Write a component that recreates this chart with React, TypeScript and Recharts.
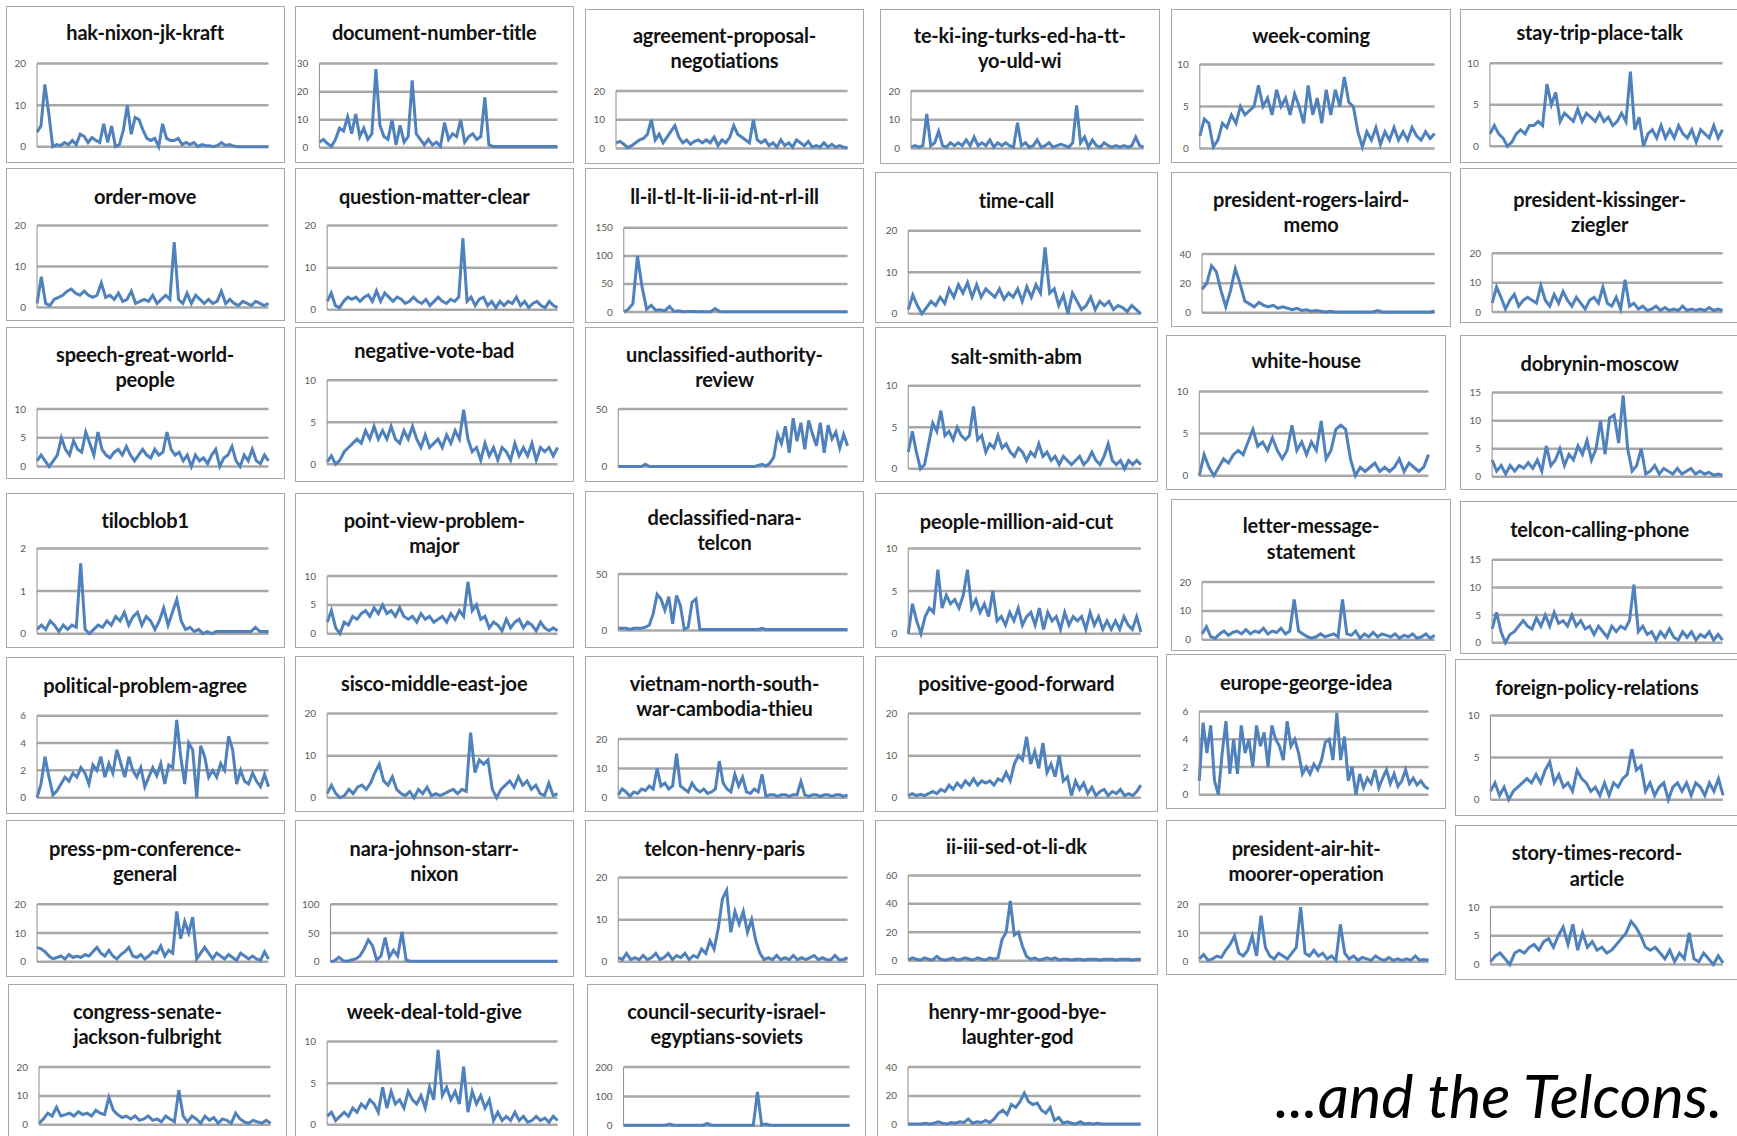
import { LineChart, Line, XAxis, YAxis, CartesianGrid } from "recharts";

const K = 1737 / 1568;
const BLUE = "#4f81bd";

const TITLES: string[][] = [
  ["hak-nixon-jk-kraft"],
  ["document-number-title"],
  ["agreement-proposal-", "negotiations"],
  ["te-ki-ing-turks-ed-ha-tt-", "yo-uld-wi"],
  ["week-coming"],
  ["stay-trip-place-talk"],
  ["order-move"],
  ["question-matter-clear"],
  ["ll-il-tl-lt-li-ii-id-nt-rl-ill"],
  ["time-call"],
  ["president-rogers-laird-", "memo"],
  ["president-kissinger-", "ziegler"],
  ["speech-great-world-", "people"],
  ["negative-vote-bad"],
  ["unclassified-authority-", "review"],
  ["salt-smith-abm"],
  ["white-house"],
  ["dobrynin-moscow"],
  ["tilocblob1"],
  ["point-view-problem-", "major"],
  ["declassified-nara-", "telcon"],
  ["people-million-aid-cut"],
  ["letter-message-", "statement"],
  ["telcon-calling-phone"],
  ["political-problem-agree"],
  ["sisco-middle-east-joe"],
  ["vietnam-north-south-", "war-cambodia-thieu"],
  ["positive-good-forward"],
  ["europe-george-idea"],
  ["foreign-policy-relations"],
  ["press-pm-conference-", "general"],
  ["nara-johnson-starr-", "nixon"],
  ["telcon-henry-paris"],
  ["ii-iii-sed-ot-li-dk"],
  ["president-air-hit-", "moorer-operation"],
  ["story-times-record-", "article"],
  ["congress-senate-", "jackson-fulbright"],
  ["week-deal-told-give"],
  ["council-security-israel-", "egyptians-soviets"],
  ["henry-mr-good-bye-", "laughter-god"],
];

const Y_TICKS: number[][] = [
  [0, 10, 20], [0, 10, 20, 30], [0, 10, 20], [0, 10, 20], [0, 5, 10], [0, 5, 10],
  [0, 10, 20], [0, 10, 20], [0, 50, 100, 150], [0, 10, 20], [0, 20, 40], [0, 10, 20],
  [0, 5, 10], [0, 5, 10], [0, 50], [0, 5, 10], [0, 5, 10], [0, 5, 10, 15],
  [0, 1, 2], [0, 5, 10], [0, 50], [0, 5, 10], [0, 10, 20], [0, 5, 10, 15],
  [0, 2, 4, 6], [0, 10, 20], [0, 10, 20], [0, 10, 20], [0, 2, 4, 6], [0, 5, 10],
  [0, 10, 20], [0, 50, 100], [0, 10, 20], [0, 20, 40, 60], [0, 10, 20], [0, 5, 10],
  [0, 10, 20], [0, 5, 10], [0, 100, 200], [0, 20, 40],
];

const hakNixon = [3.5,5,15,8,0,0.5,0.3,1,0.5,1.5,0.5,3,2.5,1,2.2,1.5,1,5.5,1,5,0,0.5,4,10,3,7,6.5,4,2,1.5,2,0,5.5,2,1.5,1.5,2,0.5,1,0.5,1,0,0.5,0.3,0.2,0,0.3,1,0.3,0.5,0.2,0,0,0,0,0,0,0,0,0];
const documentNumber = [2,3,1.5,0.5,3,7,6,11,5,12,4,7,3,5,28,8,4,3,10,1,8,2,4,24,5,3,1,3,1,2,0.5,9,3,5,4,10,2,4,5,3,4,18,1,0.5,0.5,0.5,0.5,0.5,0.5,0.5,0.5,0.5,0.5,0.5,0.5,0.5,0.5,0.5,0.5,0.5];
const agreementProposal = [2,2.5,1.5,0.3,1,2,3,3.5,5,10,3,5,2,4,6,8,4,2,3,1.5,2.5,3,2,3,2,4,1,3,2,4,8,5,4,3,2,10,3,2,3,1,2,0.5,3,1,2,0.5,3,2,1,2.5,0.5,1,0.5,2,0.5,1.5,0.5,1,0.5,0.3];
const tekiIng = [0.5,1,0.5,1,12,1,2,6,1,0.5,2,1,2,1,3,1,4,1,2,1,3,0.5,2,1,2,1,0.5,9,1,2,0.5,1,3,0.5,1,2,0.5,1,1.5,1,0.5,2,15,2,4,0.5,3,1,0.5,2,1,0.5,1,0.5,1,0.5,1,4,1,0.5];
const weekComing = [1.5,3.5,3,0.2,1,3,2.5,4,3,5,4,4.5,5,7.5,5,6,4,7,5,6,4,6.5,5,3,7.5,4,6,3,7,4,7,5,8.5,5.5,5,2,0.2,2,1,2.5,0.5,2,1,2.5,1,2,1,2.5,1.5,1,2,1.2,1.8];
const stayTrip = [1.5,2.5,1.5,1,0,0.5,1.5,2,1.5,2.5,2.5,3,2.5,7.5,5,6.5,3,4,3.5,3,4.5,3,4,3.5,3,4,3,3.5,2.5,3,4,3,9,2,3.5,0,1.5,2,1,2.5,1,2,1,2.5,1.5,1,2,0.5,2,1.5,1,2.5,1,2];

const orderMove = [1,7.5,1,0.5,2,2.5,3,4,4.5,3.5,3,4,3,2.5,3,6,2.5,3,2,3.5,1.5,2,4,1,1.5,2,1.5,3,1,2,3,2,16,2,1,3.5,1,3,2,1,2,1,1.5,4,1,2,1,0.5,1.5,1,0.5,1.5,1,0.5,1];
const questionMatter = [2,4,1,0.5,2,3,2.5,3,2,3,3.5,2,4.5,2,4,3,2,3,2.5,1.5,2,3,2,1.5,2.5,1,2,3,2,1.5,2.5,2,3,17,2,3,1,2.5,3,1,2,0.5,2,1,2,1.5,3,1,2,0.5,1.5,2,1,0.5,2,1,0.5];
const llIlTl = [0,5,15,100,45,5,12,3,4,2,10,1,2,0.5,1,1,0.5,1,0.5,0.5,6,1,0.5,0.5,0.5,0.5,0.5,0.5,0.5,0.5,0.5,0.5,0.5,0.5,0.5,0.5,0.5,0.5,0.5,0.5,0.5,0.5,0.5,0.5,0.5,0.5,0.5,0.5,0.5,0.5];
const timeCall = [1,4.5,2,0,1.5,3,2,4,2.5,6,4,7,5,7.5,4,7,4,6,5,4,6,3.5,5,4,6,3,6.5,4,7,5,16,5,6,2,4.5,0,5,3,1,2,4,1,3,2,3,1,2,1.5,0.5,2,1,0];
const presidentRogers = [16,20,32,28,15,4,15,30,20,8,6,4,7,5,4,5,3,4,3,2,3,1.5,2,1,1.5,1,0.5,1,0.5,0.5,0.5,0.5,0.5,0.5,0.5,0.5,0.5,1.5,0.5,0.5,0.5,0.5,0.5,0.5,0.5,0.5,0.5,0.5,0.5,1];
const presidentKissinger = [3,8.5,5,1,4,6,2,4,5,4,3,9,4,2,6,3,7,4,2,5,3,1,4,5,3,8.5,3,2,5,1,11,2,3,1,2,0.5,1,2,0.5,1.5,0.5,1,0.5,2,0.5,1,0.5,1,0.5,1.5,0.5,1,0.5];

const speechGreat = [1,2,1,0,1,2,5,3,2,4.5,3,2.5,6,4,2,6,3,2,1.5,2.5,3,2,3.5,2,1,2,3,2,1.5,3,2,2.5,6,3,2,2.5,1,2,0,2,1,1.5,0.5,2,3,0,1.5,2,3.5,1,0,2,1,3,1,0.5,2,1];
const negativeVote = [0.3,1,0,0.5,1.5,2,2.5,3,2.5,4,3,4.5,3,4,3,4.5,3,2.5,4,3,4.5,3,2,3.5,2,2.5,3,2,3.5,2.5,4,3,6.5,3,1.5,2,0.5,2.5,1,2,0.5,2,1.5,0.5,2.5,1,2,1,2.5,0.5,2,1.5,2,1,2];
const unclassifiedAuthority = [0,0,0,0,0,0,0,2,0,0,0,0,0,0,0,0,0,0,0,0,0,0,0,0,0,0,0,0,0,0,0,0,0,0,0,0,1,2,0.5,3,8,28,20,35,12,42,22,38,15,40,28,18,38,12,36,24,30,16,28,18];
const saltSmith = [2,4.5,2,0,0.5,3,5.5,4.5,7,4,4.5,3.5,5,4,3.5,4,7.5,3.5,4,2,3,2.5,4,2.5,3,2,1.5,2.5,2,1,2,1.5,3,1.5,2,1,1.5,0.5,1.5,1,0.5,1,1.5,0.5,1,2,1,0.5,1.5,3,1,0.5,1,0,1,0.5,1,0.5];
const whiteHouse = [0,2.5,1,0,1,2,1.5,2.5,3,2.5,4,5.5,3.5,4,3,4.5,3,2,3,6,3,4,2.5,4,3,6.5,2,3,5.5,6,5.5,2,0,1,0.5,1,1.5,0.5,1,0.5,1,2,0.5,1.5,1,0.5,1,2.5];
const dobryninMoscow = [3,1,2,0.5,2,1,2,1.5,2.5,1.5,3,1,5.5,2,3,5,2,4,3,5.5,4,6.5,3,5,10,4,10.5,11,6,14.5,5,1,2,5,0.5,1,2,0.5,1.5,1,0.5,1.5,0.5,1,1.5,0.5,1,0.5,0.8,0.3,0.5,0.3];

const tilocblob = [0.1,0.2,0.1,0.3,0.2,0.05,0.2,0.1,0.2,0.15,1.65,0.1,0,0.1,0.2,0.15,0.3,0.2,0.4,0.3,0.5,0.2,0.4,0.5,0.2,0.4,0.3,0.1,0.3,0.6,0.2,0.5,0.8,0.3,0.1,0.15,0.05,0.1,0,0.05,0,0.05,0.05,0.05,0.05,0.05,0.05,0.05,0.05,0.05,0.15,0.05,0.05,0.05];
const pointView = [2,4,1,0,2,1.5,3,2.5,3.5,4,3,4.5,3.5,5,3.5,4,3,4.5,3,2.5,3,2,3.5,2.5,3,2,2.5,3,2,3.5,2.5,4,3,9,4,5,2.5,3,1,2,1.5,0.5,2.5,1,2,2.5,1,2,1.5,0.5,2,1,0.5,1,0.5];
const declassifiedNara = [2,2,2,1,2,2,2,3,5,15,32,28,18,30,6,31,22,1,3,25,28,1,1,1,1,1,1,1,1,1,1,1,1,1,1,1,1,2,1,1,1,1,1,1,1,1,1,1,1,1,1,1,1,1,1,1,1,1,1,1];
const peopleMillion = [0,3.5,1.5,0,2,3,2.5,7.5,3,4.5,3.5,4,3,4.5,7.5,3,4,2.5,3.5,2,5,1.5,2,1,2.5,1.5,3,1,2,2.5,1,3,0.5,2.5,1.5,2,0.5,2.5,1,2,1.5,2,0.5,2.5,1,2,0.5,1.5,0.5,1.5,0.5,2,1,0.5,2,0.2];
const letterMessage = [2,4.5,1,0.5,2,3,1.5,2.5,3,2,3.5,2,3,2.5,4,2,3,2.5,4,2,3,14,3,2,1,0.5,1,2,1,1.5,2,1,14,2,1.5,3,0.5,2,1,2.5,1,2,1.5,1,2,0.5,1.5,1,2,0.5,1,2,0.5,1.5];
const telconCalling = [2.5,5.5,2,0,1.5,2,3,4,3,2.5,4.5,3,5,3,5.5,3.5,4,3,5,3,4,2.5,3,1.5,3,2,1,3,2,3,2.5,4,10.5,2,3,1.5,2,0.5,2,1,2.5,1,0.5,2,1,2,0.5,1.5,1,2,0.5,1.5,0.5];

const politicalProblem = [0,1,3,1.5,0.2,0.5,1,1.5,1.2,1.8,1.5,2.2,1.8,1,2.4,2,3,1.5,2.5,1.8,3.5,2.5,1.5,3,2,1.5,2.2,0.8,1.5,2.2,1.6,2.5,1,2.4,2.2,5.7,3,1,4,3.5,0,3.8,3,1.5,2,1.5,2.5,2,4.5,3.5,1,2,1.2,1,1.8,1.2,0.8,1.7,0.8];
const siscoMiddle = [1,3,1,0,0.5,2,1,2.5,3,2,3.5,6,8,4,3,5,2,1,0.5,1.5,0,2,1,2.5,0.5,1,0.5,1,1.5,2,1,2,1.5,15.5,6,9,8,9,2,0,2,3,4,2.5,5,3,4,2,3,1,0.5,3.5,0.5,1];
const vietnamNorth = [1,3,2,0.5,2,1.5,3,2.5,4,3,10,4,5,3,4,15,4,3,2,5,3,2,3,1.5,2,3,12.5,5,3,2,8,4,7,2,1.5,3,2,8,0.5,1,1,0.5,1,1,0.5,1,1,5.5,1,0.5,1,1,0.5,1,1,0.5,1,1,0.5,1];
const positiveGood = [0.5,1,0.5,0.8,0.5,1,1.5,1,2,1.5,3,2,3.5,2.5,4,3,4.5,3,4,3.5,4,3,4.5,4,6,4,8,10,9,14.5,8,11,7,13,6,8,5,10,4,5,0.5,4,2,3.5,1,2.5,0.5,1.5,2,0.5,1.5,1,2,0.5,1,0.5,1.5,3];
const europeGeorge = [1,5.2,3,5,1,0,3,5.3,1.5,4,1.5,5,3,4,2,5,3.5,4.5,2,5,4,3.5,2.5,5.3,3.5,4,3,1.5,2,1.5,2.2,1.8,2.5,3.8,4,2.5,5.9,2.5,4.2,1,2,0,1.5,0.5,1.2,0.8,1.8,0.5,1.2,1.8,0.8,1.5,0.6,1,1.8,0.8,1.2,0.7,1,0.6,0.4];
const foreignPolicy = [1,2,0.5,1.5,0,1,1.5,2,2.5,2,3,2,3.5,4.5,2,3,1.5,2,1,3.5,2.5,2,1,1.5,0.5,2,0.5,2,1.5,2.5,3,6,3.5,4,1,2,0.5,1.5,2,0,1.5,2,1,2,0.5,2,1.5,0.5,2,1,2.5,0.5];

const pressPm = [5,4.5,3.5,2,1,1.5,2,1,2.5,1.5,2,1.5,2.5,2,3.5,5,3,2,4,2,1,2.5,3.5,5,2,1.5,2.5,1,2,3.5,3,5.5,2,4,3,17.5,8,14,10,15.5,1,3,5,3,1,3,2,1,2.5,1.5,0.5,3,2,1,2,1,0.5,3.5,1];
const naraJohnson = [0,2,8,2,1,3,5,10,22,38,28,3,10,42,8,20,10,52,3,1,1,1,1,1,1,1,1,1,1,1,1,1,1,1,1,1,1,1,1,1,1,1,1,1,1,1,1,1,1,1,1,1,1,1,1];
const telconHenry = [1,0.5,2,0.5,1,0.5,1.5,0.5,1,2,0.5,1,2,0.5,1.5,1,2,0.5,1.5,1,3,2,5,3,8,15,17,7,12,9,12,7,10,5,2,0.5,1,0.5,1.5,0.5,1,0.5,1.5,0.5,1,0.5,1,1.5,0.5,1,0.5,0.5,1.5,0.5,0.5,1];
const iiIiiSed = [0.5,2,1,0.5,2,1,0.5,3,1,0.5,1,2,0.5,1,2,1,0.5,2,1,0.5,2,1,2,15,20,42,18,20,10,3,1,2,0.5,1,2,1,2,0.5,1,1,0.5,1,1,0.5,1,1,1,0.5,1,1,1,0.5,1,1,1,0.5,1,1];
const presidentAir = [1,2.5,0.5,1,2,1.5,4,6,9,3,2,4,9,2,16,5,2,1,3,2,1,3,5,19,3,2,4,2,3,1,2,0.5,13,3,1,2,0.5,1.5,1,0.5,2,1,0.5,1.5,0.5,1,0.5,1,0.5,2,0.5,0.8,0.5];
const storyTimes = [0.5,1.5,2,1,0,2,2.5,2,3,3.5,2.5,4,4.5,3,5,6.5,3.5,7,2.5,5.5,3,4,2.5,3,2,2.5,3.5,4.5,5.5,7.5,6.5,5,3,2.5,3,2,1,2.5,0.5,2,1,5.5,1,0.5,2,1,0,1.5,0.3];

const congressSenate = [0.5,2,4,3,6,3,3.5,4,3,4.5,3.5,4,3,5,4,3.5,9.5,5,3.5,2.5,3,2,3,1.5,2,3,1.5,2,1,3,2,1,12,3,1,3,2,0.5,3,1.5,2.5,0.5,2,1.5,0.5,4,2,1,0.5,1.5,1,0.5,1.5,0.5];
const weekDeal = [1,1.5,0.5,1,1.5,1,2,1.5,2.5,2,3,2.5,1.5,4.5,2,4,2.5,3,2,4,3,2.5,3.5,2,4.5,3,9,3.5,4.5,3,4,2.5,7,1.5,4,2.5,3.5,2,3,0.5,1.5,0.5,1,0.5,1.5,0.5,1,0.3,0.5,1,0.5,0.8,0.3,1,0.5];
const councilSecurity = [2,2,2,2,2,2,2,2,2,2,2,6,2,2,2,2,2,2,2,2,8,2,2,2,2,2,2,2,2,2,2,2,115,3,6,2,2,2,2,2,2,2,2,2,2,2,2,2,2,2,2,2,2,2,2];
const henryMr = [0.5,0.5,0.5,0.5,1,0.5,1,2,1,0.5,1.5,1,2,1.5,4,1,2,1.5,3,1.5,4,8,10,7,14,12,16,22,16,14,15,10,8,12,3,5,1,2,1,0.5,2,0.5,1,0.5,1,0.5,0.5,0.5,0.5,0.5,0.5,0.5,0.5,0.5,0.5];

const SERIES = [
  hakNixon, documentNumber, agreementProposal, tekiIng, weekComing, stayTrip,
  orderMove, questionMatter, llIlTl, timeCall, presidentRogers, presidentKissinger,
  speechGreat, negativeVote, unclassifiedAuthority, saltSmith, whiteHouse, dobryninMoscow,
  tilocblob, pointView, declassifiedNara, peopleMillion, letterMessage, telconCalling,
  politicalProblem, siscoMiddle, vietnamNorth, positiveGood, europeGeorge, foreignPolicy,
  pressPm, naraJohnson, telconHenry, iiIiiSed, presidentAir, storyTimes,
  congressSenate, weekDeal, councilSecurity, henryMr,
];

// [left, top, right, bottom, title y, top grid y, zero y, axis x] in the 1568px copy
const LAYOUT: number[][] = [
  [5, 5, 257, 147, 30, 57, 132, 33],
  [266, 5, 518, 147, 30, 57, 133, 288],
  [528, 8, 780, 148, 32, 82, 134, 556],
  [794, 8, 1047, 148, 32, 82, 134, 822],
  [1057, 8, 1310, 147, 32, 58, 134, 1083],
  [1318, 8, 1570, 147, 30, 57, 132, 1345],
  [5, 152, 257, 290, 178, 204, 278, 33],
  [266, 152, 518, 292, 178, 204, 280, 295],
  [528, 152, 780, 292, 178, 206, 282, 563],
  [790, 155, 1045, 292, 181, 208, 283, 820],
  [1057, 155, 1310, 295, 180, 229, 282, 1085],
  [1318, 152, 1570, 292, 180, 229, 282, 1347],
  [5, 295, 257, 432, 320, 369, 421, 33],
  [266, 295, 518, 435, 317, 343, 419, 295],
  [528, 295, 780, 435, 320, 369, 421, 558],
  [790, 295, 1045, 435, 322, 348, 423, 820],
  [1053, 302, 1305, 442, 326, 353, 429, 1083],
  [1318, 302, 1570, 442, 328, 354, 430, 1347],
  [5, 445, 257, 585, 470, 495, 572, 33],
  [266, 445, 518, 585, 470, 520, 572, 295],
  [528, 443, 780, 585, 467, 518, 569, 558],
  [790, 445, 1045, 585, 471, 495, 572, 820],
  [1057, 450, 1310, 588, 475, 525, 577, 1085],
  [1318, 452, 1570, 590, 478, 505, 580, 1347],
  [5, 593, 257, 735, 619, 646, 720, 33],
  [266, 592, 518, 733, 617, 644, 720, 295],
  [528, 592, 780, 733, 617, 667, 720, 558],
  [790, 592, 1045, 733, 617, 644, 720, 820],
  [1053, 590, 1305, 730, 616, 642, 717, 1083],
  [1313, 595, 1570, 737, 621, 646, 722, 1345],
  [5, 740, 257, 882, 766, 816, 868, 33],
  [266, 740, 518, 882, 766, 816, 868, 298],
  [528, 740, 780, 882, 766, 792, 868, 558],
  [790, 740, 1045, 880, 764, 790, 867, 820],
  [1053, 740, 1305, 880, 766, 816, 868, 1083],
  [1313, 745, 1570, 885, 770, 819, 871, 1345],
  [7, 888, 259, 1040, 913, 963, 1015, 35],
  [266, 888, 518, 1040, 913, 940, 1015, 295],
  [530, 888, 782, 1040, 913, 963, 1016, 563],
  [792, 888, 1045, 1040, 913, 963, 1015, 820],
];

function Panel({ idx }: { idx: number }) {
  const [l, t, r, b, ty, yTop, y0, ax] = LAYOUT[idx];
  const left = l * K;
  const top = t * K;
  const w = (r - l) * K;
  const h = (b - t) * K;
  const ticks = Y_TICKS[idx];
  const max = ticks[ticks.length - 1];
  const vals = SERIES[idx];
  const data = vals.map((v, i) => ({ i, v }));
  const lh = 23 * K;

  return (
    <div style={{ position: "absolute", left, top, width: w, height: h }}>
      <div
        style={{
          position: "absolute",
          inset: 0,
          border: "1.5px solid #a8a8a8",
          boxSizing: "border-box",
          background: "#fff",
        }}
      />
      {TITLES[idx].map((s, j) => (
        <div
          key={j}
          style={{
            position: "absolute",
            left: 0,
            width: w,
            top: (ty - t) * K + j * lh - lh / 2,
            height: lh,
            lineHeight: `${lh}px`,
            textAlign: "center",
            fontWeight: 700,
            fontSize: 20,
            letterSpacing: -0.2,
            color: "#111",
            whiteSpace: "nowrap",
          }}
        >
          {s}
        </div>
      ))}
      <div style={{ position: "absolute", left: 0, top: 0 }}>
        <LineChart
          width={w}
          height={h}
          data={data}
          margin={{ top: (yTop - t) * K, bottom: (b - y0) * K, left: 0, right: 15 * K }}
        >
          <CartesianGrid vertical={false} stroke="#a8a8a8" strokeWidth={2.5} />
          <XAxis dataKey="i" type="number" domain={[0, vals.length - 1]} hide />
          <YAxis
            width={(ax - l) * K}
            domain={[0, max]}
            ticks={ticks}
            interval={0}
            tickLine={false}
            tickSize={0}
            tickMargin={11}
            axisLine={{ stroke: "#8c8c8c" }}
            tick={{ fontSize: 10, fill: "#595959" }}
          />
          <Line
            type="linear"
            dataKey="v"
            stroke={BLUE}
            strokeWidth={3}
            dot={false}
            isAnimationActive={false}
          />
        </LineChart>
      </div>
    </div>
  );
}

export default function App() {
  return (
    <div
      style={{
        position: "absolute",
        left: 0,
        top: 0,
        width: 1737,
        height: 1136,
        overflow: "hidden",
        background: "#fff",
        fontFamily: "Lato, 'Open Sans', sans-serif",
      }}
    >
      {LAYOUT.map((_, i) => (
        <Panel key={i} idx={i} />
      ))}
      <div
        style={{
          position: "absolute",
          left: 1275,
          top: 1058,
          fontSize: 61,
          fontStyle: "italic",
          color: "#000",
          whiteSpace: "nowrap",
          lineHeight: "74px",
        }}
      >
        ...and the Telcons.
      </div>
    </div>
  );
}
